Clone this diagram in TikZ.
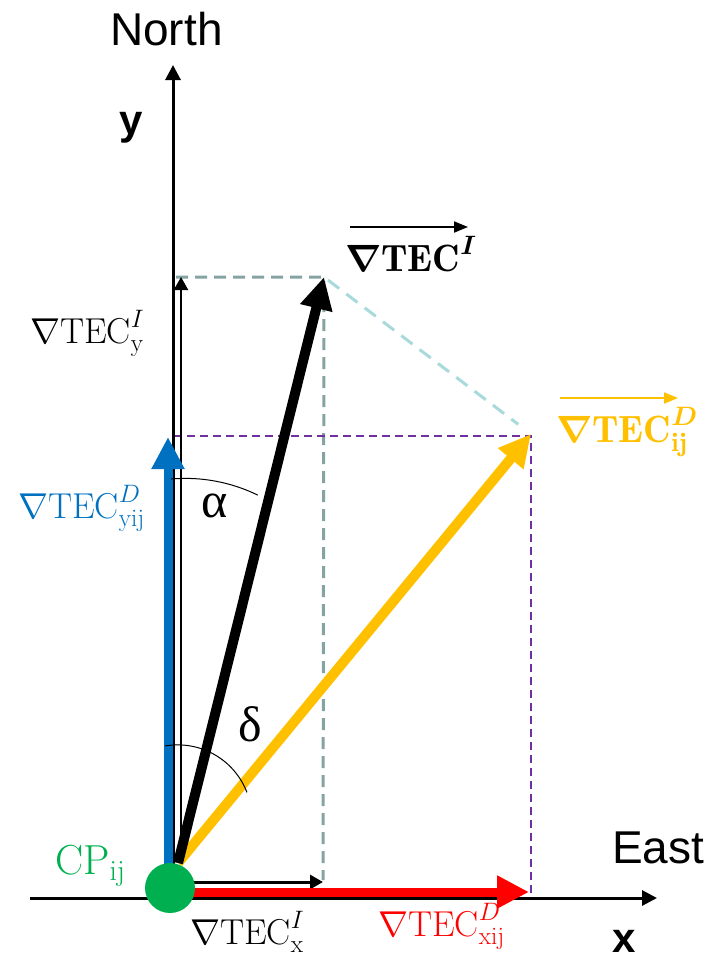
\RequirePackage{fix-cm}
\documentclass[tikz,border=0pt]{standalone}
\usepackage{amsmath,bm}
\usepackage{fontspec}
\newfontfamily\sansf{Liberation Sans}
\newfontfamily\greekf{Liberation Serif}
\usetikzlibrary{arrows.meta}
\definecolor{cblue}{HTML}{0070C0}
\definecolor{cred}{HTML}{FF0000}
\definecolor{cyel}{HTML}{FFC000}
\definecolor{cgreen}{HTML}{00B050}
\definecolor{cgray}{HTML}{86A3A3}
\definecolor{ccyan}{HTML}{A8DADC}
\definecolor{cpurp}{HTML}{7030A0}
\tikzset{
  lbl/.style={inner sep=0pt, font=\fontsize{36}{40}\selectfont},
  biglbl/.style={inner sep=0pt, font=\fontsize{38}{42}\selectfont},
  sanslbl/.style={inner sep=0pt, font=\sansf\fontsize{46}{50}\selectfont},
  boldlbl/.style={inner sep=0pt, font=\sansf\bfseries\fontsize{42}{46}\selectfont},
  greeklbl/.style={inner sep=0pt, font=\greekf\fontsize{50}{54}\selectfont},
  axisline/.style={line width=3pt, -{Triangle[length=15pt,width=15pt]}},
  thinvec/.style={line width=2.5pt, -{Triangle[length=13pt,width=14pt]}},
  bigvec/.style={line width=10pt, -{Triangle[length=32pt,width=31pt]}},
  overarrow/.style={line width=2pt, -{Triangle[length=14pt,width=11pt]}},
  graydash/.style={draw=cgray, line width=3pt, dash pattern=on 12pt off 7pt},
  cyandash/.style={draw=ccyan, line width=3pt, dash pattern=on 14pt off 9pt},
  purpdash/.style={draw=cpurp, line width=2pt, dash pattern=on 8pt off 5pt},
  anglearc/.style={line width=1pt},
}
\begin{document}
\begin{tikzpicture}[x=1pt,y=-1pt]
\useasboundingbox (0,0) rectangle (713,962);
% key points
\coordinate (O) at (178,863);
\coordinate (Itip) at (324,277);
\coordinate (Dtip) at (531,434);
\coordinate (Iy) at (181,277);
\coordinate (Iybase) at (181,862);
\coordinate (Ixbase) at (190,882);
\coordinate (Ix) at (323,882);
\coordinate (Icorner) at (176,277);
\coordinate (Ibot) at (323,880);
\coordinate (Dy) at (174,436);
\coordinate (Dcorner) at (531,436);
\coordinate (Dbot) at (531,893);
\coordinate (Ybot) at (173,880);
\coordinate (Ytop) at (173,65);
\coordinate (Xleft) at (30,898);
\coordinate (Xright) at (657,898);
\coordinate (Bbase) at (168,880);
\coordinate (Btip) at (168,437);
\coordinate (Rbase) at (185,892);
\coordinate (Rtip) at (529,892);
\coordinate (vIa) at (350,227);
\coordinate (vIb) at (468,227);
\coordinate (vDa) at (560,398);
\coordinate (vDb) at (678,398);
% dashed projections
\draw[graydash] (Icorner) -- (Itip) -- (Ibot);
\draw[cyandash, shorten <=5pt, shorten >=16pt] (Itip) -- (Dtip);
\draw[purpdash] (Dy) -- (Dcorner) -- (Dbot);
% axes
\draw[axisline] (Xleft) -- (Xright);
\draw[axisline] (Ybot) -- (Ytop);
% component vectors
\draw[thinvec] (Iybase) -- (Iy);
\draw[thinvec, line width=3pt] (Ixbase) -- (Ix);
\draw[bigvec, draw=cblue, fill=cblue, line width=9pt] (Bbase) -- (Btip);
\draw[bigvec, draw=cred, fill=cred, line width=9pt] (Rbase) -- (Rtip);
% main vectors
\draw[bigvec, draw=cyel, fill=cyel] (O) -- (Dtip);
\draw[bigvec] (O) -- (Itip);
% angle arcs
\draw[anglearc] (171,479) arc[start angle=-95, end angle=-64, radius=165];
\draw[anglearc] (165,746) arc[start angle=-100, end angle=-21, radius=74];
% point
\node[circle, fill=cgreen, minimum size=50pt, inner sep=0pt] (cp) at (170,888) {};
% labels
\node[sanslbl, anchor=base west] (north) at (110,45) {North};
\node[sanslbl, anchor=base west] (east) at (612,863) {East};
\node[boldlbl, anchor=base] (ylab) at (131,134) {y};
\node[boldlbl, anchor=base] (xlab) at (624,952) {x};
\node[lbl, anchor=base west] (tiy) at (30,343) {$\nabla\mathrm{TEC}^{I}_{\mathrm{y}}$};
\node[lbl, anchor=base west, text=cblue] (tdy) at (18,518) {$\nabla\mathrm{TEC}^{D}_{\mathrm{yij}}$};
\node[lbl, anchor=base west] (tix) at (190,944) {$\nabla\mathrm{TEC}^{I}_{\mathrm{x}}$};
\node[lbl, anchor=base west, text=cred] (tdx) at (378,936) {$\nabla\mathrm{TEC}^{D}_{\mathrm{xij}}$};
\node[inner sep=0pt, font=\fontsize{42}{46}\selectfont, anchor=base west, text=cgreen] (cplab) at (55,874) {$\mathrm{CP}_{\mathrm{ij}}$};
\node[greeklbl] (alpha) at (215,506) {α};
\node[greeklbl] (delta) at (250,724) {δ};
\node[biglbl, anchor=base west] (vI) at (345,271) {$\boldsymbol{\nabla}\mathbf{TEC}^{\boldsymbol{I}}$};
\draw[overarrow] (vIa) -- (vIb);
\node[biglbl, anchor=base west, text=cyel] (vD) at (556,442) {$\boldsymbol{\nabla}\mathbf{TEC}^{\boldsymbol{D}}_{\mathbf{ij}}$};
\draw[overarrow, draw=cyel, fill=cyel] (vDa) -- (vDb);
\end{tikzpicture}
\end{document}
